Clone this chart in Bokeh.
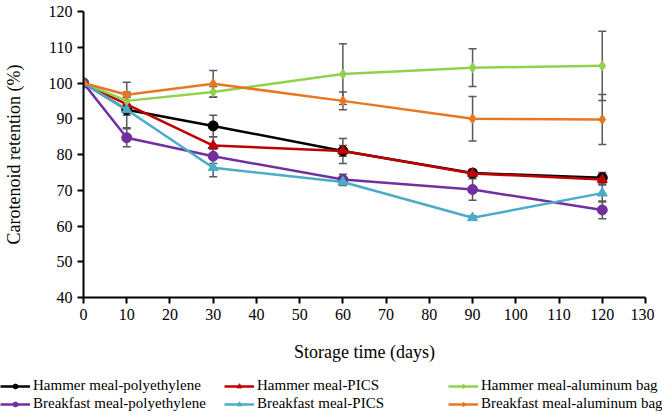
from bokeh.plotting import figure
from bokeh.models import ColumnDataSource, Whisker, TeeHead, Legend, LegendItem, FixedTicker, Range1d
from bokeh.embed import file_html
from bokeh.resources import INLINE

days = [0, 10, 30, 60, 90, 120]

hammer_pe = [100, 92.5, 88.0, 81.0, 74.8, 73.5]
hammer_pe_err = [0.3, 1.5, 3.0, 3.5, 1.0, 1.5]
hammer_pics = [100, 94.0, 82.5, 81.0, 74.7, 73.0]
hammer_pics_err = [0.3, 2.0, 2.5, 1.5, 1.0, 1.5]
hammer_al = [100, 95.0, 97.5, 102.5, 104.3, 104.8]
hammer_al_err = [0.3, 1.5, 1.5, 8.5, 5.3, 9.7]
bf_pe = [100, 84.7, 79.5, 73.0, 70.2, 64.5]
bf_pe_err = [0.3, 2.5, 2.0, 1.5, 3.0, 2.5]
bf_pics = [100, 92.5, 76.3, 72.3, 62.3, 69.2]
bf_pics_err = [0.3, 5.0, 2.5, 1.0, 0.5, 2.5]
bf_al = [100, 96.7, 99.8, 95.0, 90.0, 89.8]
bf_al_err = [0.3, 3.5, 3.7, 2.5, 6.2, 7.0]

series = [
    ("Hammer meal-polyethylene", hammer_pe, hammer_pe_err, "#000000", "circle"),
    ("Hammer meal-PICS", hammer_pics, hammer_pics_err, "#C00000", "triangle"),
    ("Hammer meal-aluminum bag", hammer_al, hammer_al_err, "#92D050", "diamond"),
    ("Breakfast meal-polyethylene", bf_pe, bf_pe_err, "#7030A0", "circle"),
    ("Breakfast meal-PICS", bf_pics, bf_pics_err, "#4BACC6", "triangle"),
    ("Breakfast meal-aluminum bag", bf_al, bf_al_err, "#E87722", "diamond"),
]

FONT = "'Liberation Serif', 'Times New Roman', serif"

p = figure(width=654, height=364, output_backend="svg", toolbar_location=None,
           x_range=Range1d(0, 130), y_range=Range1d(40, 120),
           min_border_left=83, min_border_top=11, min_border_right=9, min_border_bottom=67)
p.outline_line_color = None
p.grid.visible = False

for ax in (p.xaxis, p.yaxis):
    ax.axis_line_color = "black"
    ax.axis_line_width = 2
    ax.major_tick_line_color = "black"
    ax.major_tick_line_width = 2
    ax.major_tick_out = 6
    ax.major_tick_in = 0
    ax.minor_tick_line_color = None
    ax.major_label_text_font = FONT
    ax.major_label_text_font_size = "16px"
    ax.major_label_text_color = "black"
    ax.axis_label_text_font = FONT
    ax.axis_label_text_font_size = "18px"
    ax.axis_label_text_font_style = "normal"
    ax.axis_label_text_color = "black"

p.xaxis.ticker = FixedTicker(ticks=list(range(0, 131, 10)))
p.yaxis.ticker = FixedTicker(ticks=list(range(40, 121, 10)))
p.xaxis.axis_label = "Storage time (days)"
p.yaxis.axis_label = "Carotenoid retention (%)"
p.xaxis.axis_label_standoff = 19
p.yaxis.axis_label_standoff = 22

# legend strip: same series drawn outside its visible range, only the legend shows
leg = figure(width=662, height=53, output_backend="svg", toolbar_location=None,
             x_range=Range1d(0, 1), y_range=Range1d(0, 1),
             x_axis_type=None, y_axis_type=None,
             min_border=0, min_border_left=0, min_border_right=0,
             min_border_top=0, min_border_bottom=0)
leg.outline_line_color = None
leg.grid.visible = False

items = []
for name, vals, err, color, marker in series:
    src = ColumnDataSource(dict(x=days, y=vals))
    p.line("x", "y", source=src, line_color=color, line_width=2.5)
    p.scatter("x", "y", source=src, marker=marker, size=10,
              fill_color=color, line_color=color)
    l = leg.line("x", "y", source=src, line_color=color, line_width=2.5)
    m = leg.scatter("x", "y", source=src, marker=marker, size=8,
                    fill_color=color, line_color=color)
    items.append((name, l, m))

for name, vals, err, color, marker in series:
    src = ColumnDataSource(dict(x=days,
                                lo=[v - e for v, e in zip(vals, err)],
                                hi=[v + e for v, e in zip(vals, err)]))
    w = Whisker(source=src, base="x", lower="lo", upper="hi",
                line_color="#595959", line_width=1.5,
                upper_head=TeeHead(size=8, line_color="#595959", line_width=1.5),
                lower_head=TeeHead(size=8, line_color="#595959", line_width=1.5))
    p.add_layout(w)

for i, row in enumerate((items[:3], items[3:])):
    lg = Legend(items=[LegendItem(label=n, renderers=[l, m]) for n, l, m in row],
                orientation="horizontal", location=(0, 23 if i == 0 else 5),
                label_text_font=FONT, label_text_font_size="15px",
                label_text_color="black", label_height=14,
                glyph_width=30, glyph_height=12, label_standoff=3,
                label_width=185, spacing=6, padding=0, margin=0,
                border_line_color=None, background_fill_alpha=0)
    leg.add_layout(lg, "center")

open("out.html", "w").write(file_html([p, leg], INLINE))
